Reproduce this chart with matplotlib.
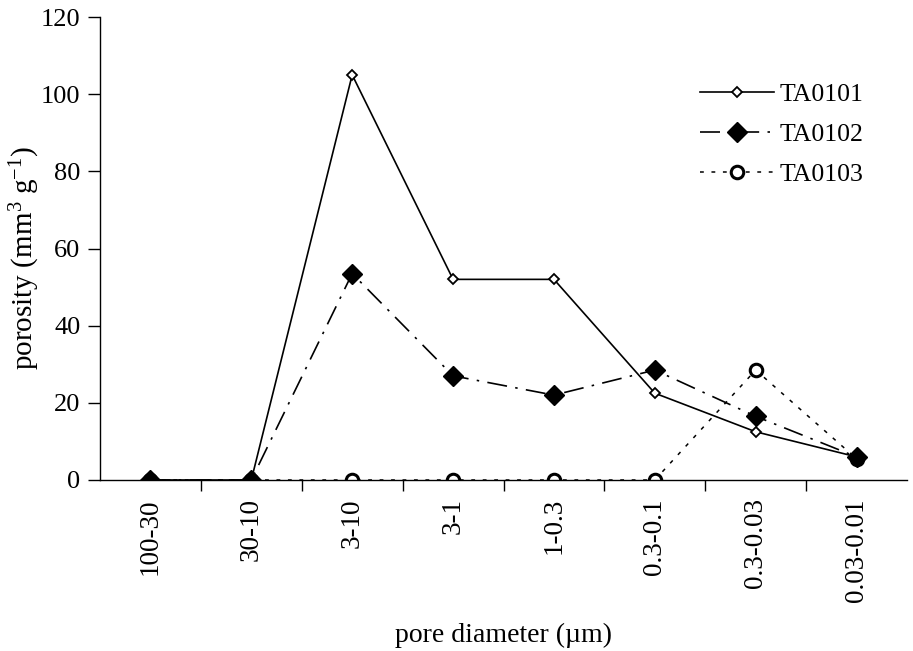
#!/usr/bin/env python3
# Porosity by pore-diameter class for three samples

import numpy as np
import matplotlib
matplotlib.use("Agg")
import matplotlib.pyplot as plt
from matplotlib.ticker import FixedLocator

plt.rcParams['font.family'] = ['Liberation Serif', 'DejaVu Serif']
plt.rcParams['mathtext.fontset'] = 'custom'
plt.rcParams['mathtext.rm'] = 'Liberation Serif'
plt.rcParams['mathtext.it'] = 'Liberation Serif:italic'

categories = ["100-30", "30-10", "3-10", "3-1", "1-0.3", "0.3-0.1", "0.3-0.03", "0.03-0.01"]
ta0101 = [0, 0, 105, 52, 52, 22.5, 12.5, 6]
ta0102 = [0, 0, 53.5, 27, 22, 28.5, 16.5, 6]
ta0103 = [0, 0, 0, 0, 0, 0, 28.5, 5.5]
y_ticks = [0, 20, 40, 60, 80, 100, 120]

fig = plt.figure(figsize=(9.13, 6.51), dpi=100)
ax = fig.add_axes([100 / 913, 1 - 480 / 651, 807 / 913, 463 / 651])

x = np.arange(len(categories))

ax.plot(x, ta0103, color='black', lw=1.1, dashes=(2.5, 5),
        marker='o', ms=9, mfc='white', mec='black', mew=2.2, label='TA0103', zorder=2)
ax.plot(x, ta0101, color='black', lw=1.2, ls='-',
        marker='D', ms=5, mfc='white', mec='black', mew=1.3, label='TA0101', zorder=3)
ax.plot(x, ta0102, color='black', lw=1.2, dashes=(12, 5, 1.5, 5),
        marker='D', ms=10, mfc='black', mec='black', label='TA0102', zorder=4)

ax.set_xlim(-0.5, len(categories) - 0.5)
ax.set_ylim(0, 120)

ax.set_xticks(x)
ax.set_xticklabels(categories, rotation=90, fontsize=19.5)
ax.xaxis.set_minor_locator(FixedLocator(np.arange(0.5, len(categories) - 0.5, 1)))
ax.tick_params(axis='x', which='major', length=0, pad=13)
ax.tick_params(axis='x', which='minor', length=8, direction='out', width=1)

ax.set_yticks(y_ticks)
ax.tick_params(axis='y', length=9, direction='out', width=1, labelsize=19, pad=5)

for s in ['top', 'right']:
    ax.spines[s].set_visible(False)
for s in ['left', 'bottom']:
    ax.spines[s].set_linewidth(1)

ax.set_xlabel('pore diameter (\u00b5m)', fontsize=20, labelpad=15)
ax.set_ylabel('porosity (mm$^{3}$ g$^{-1}$)', fontsize=21)
ax.yaxis.set_label_coords(-0.072, 0.48)

handles, labels = ax.get_legend_handles_labels()
order = [1, 2, 0]
ax.legend([handles[i] for i in order], [labels[i] for i in order],
          loc='upper left', bbox_to_anchor=(0.743, 0.857), frameon=False,
          fontsize=18.5, handlelength=2.9, handletextpad=0.2, labelspacing=0.66,
          borderpad=0, borderaxespad=0)

fig.savefig('out.png', dpi=100)
